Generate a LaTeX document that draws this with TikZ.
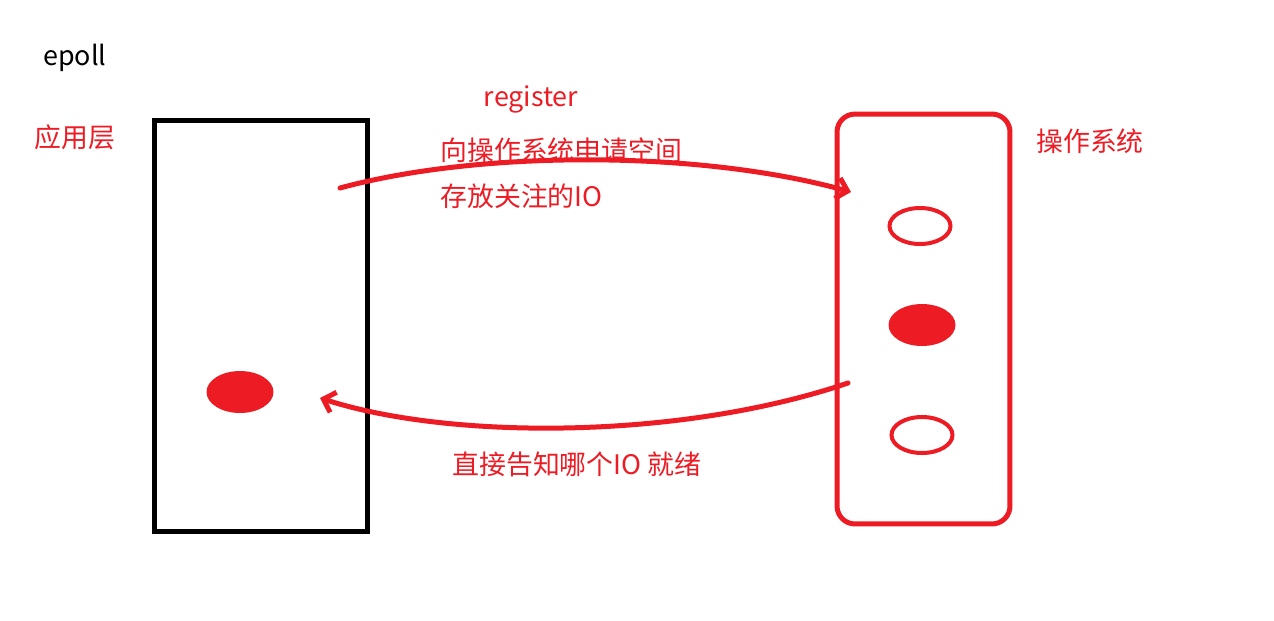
\documentclass[tikz,border=0pt]{standalone}
\usepackage{fontspec}
\setmainfont{Noto Sans CJK SC}
\usetikzlibrary{arrows.meta,shapes.geometric}
\definecolor{paintred}{HTML}{ED1C24}
\begin{document}
\begin{tikzpicture}[x=0.02cm,y=-0.02cm,
  lbl/.style={text=paintred,inner sep=0pt,font=\fontsize{15.3}{18}\selectfont},
  ring/.style={draw=paintred,ellipse,line width=0.08cm,inner sep=0,minimum width=1.22cm,minimum height=0.72cm},
  dot/.style={fill=paintred,ellipse,inner sep=0,minimum width=1.34cm,minimum height=0.84cm},
  wire/.style={draw=paintred,line width=0.1cm,line cap=round,-{Straight Barb[length=6pt,width=12pt]}}]
\useasboundingbox (0,0) rectangle (1274,620);
\node[lbl,text=black] (title) at (75,58) {epoll};
\node[lbl] (applbl) at (75,137) {应用层};
\node[lbl] (oslbl) at (1090,141) {操作系统};
\node[draw,line width=0.1cm,inner sep=0,minimum width=4.28cm,minimum height=8.24cm] (app) at (261,326) {};
\node[draw=paintred,line width=0.1cm,rounded corners=0.36cm,inner sep=0,minimum width=3.46cm,minimum height=8.2cm] (os) at (923.5,319) {};
\node[ring] (fd1) at (920,226) {};
\node[dot] (fd2) at (922,325) {};
\node[ring] (fd3) at (922,435) {};
\node[dot] (ready) at (240,392) {};
\coordinate (regfrom) at (340,188);
\coordinate (regto) at (851,192);
\coordinate (notefrom) at (848,383);
\coordinate (noteto) at (320,398);
\node[lbl] (reg) at (531,99) {register};
\node[lbl,anchor=west] (ask) at (440,150) {向操作系统申请空间};
\node[lbl,anchor=west] (keep) at (440,196) {存放关注的IO};
\node[lbl,anchor=west] (tell) at (452,464) {直接告知哪个IO 就绪};
\draw[wire] (regfrom) .. controls (480,150) and (700,150) .. (regto);
\draw[wire] (notefrom) .. controls (680,440) and (450,440) .. (noteto);
\end{tikzpicture}
\end{document}
